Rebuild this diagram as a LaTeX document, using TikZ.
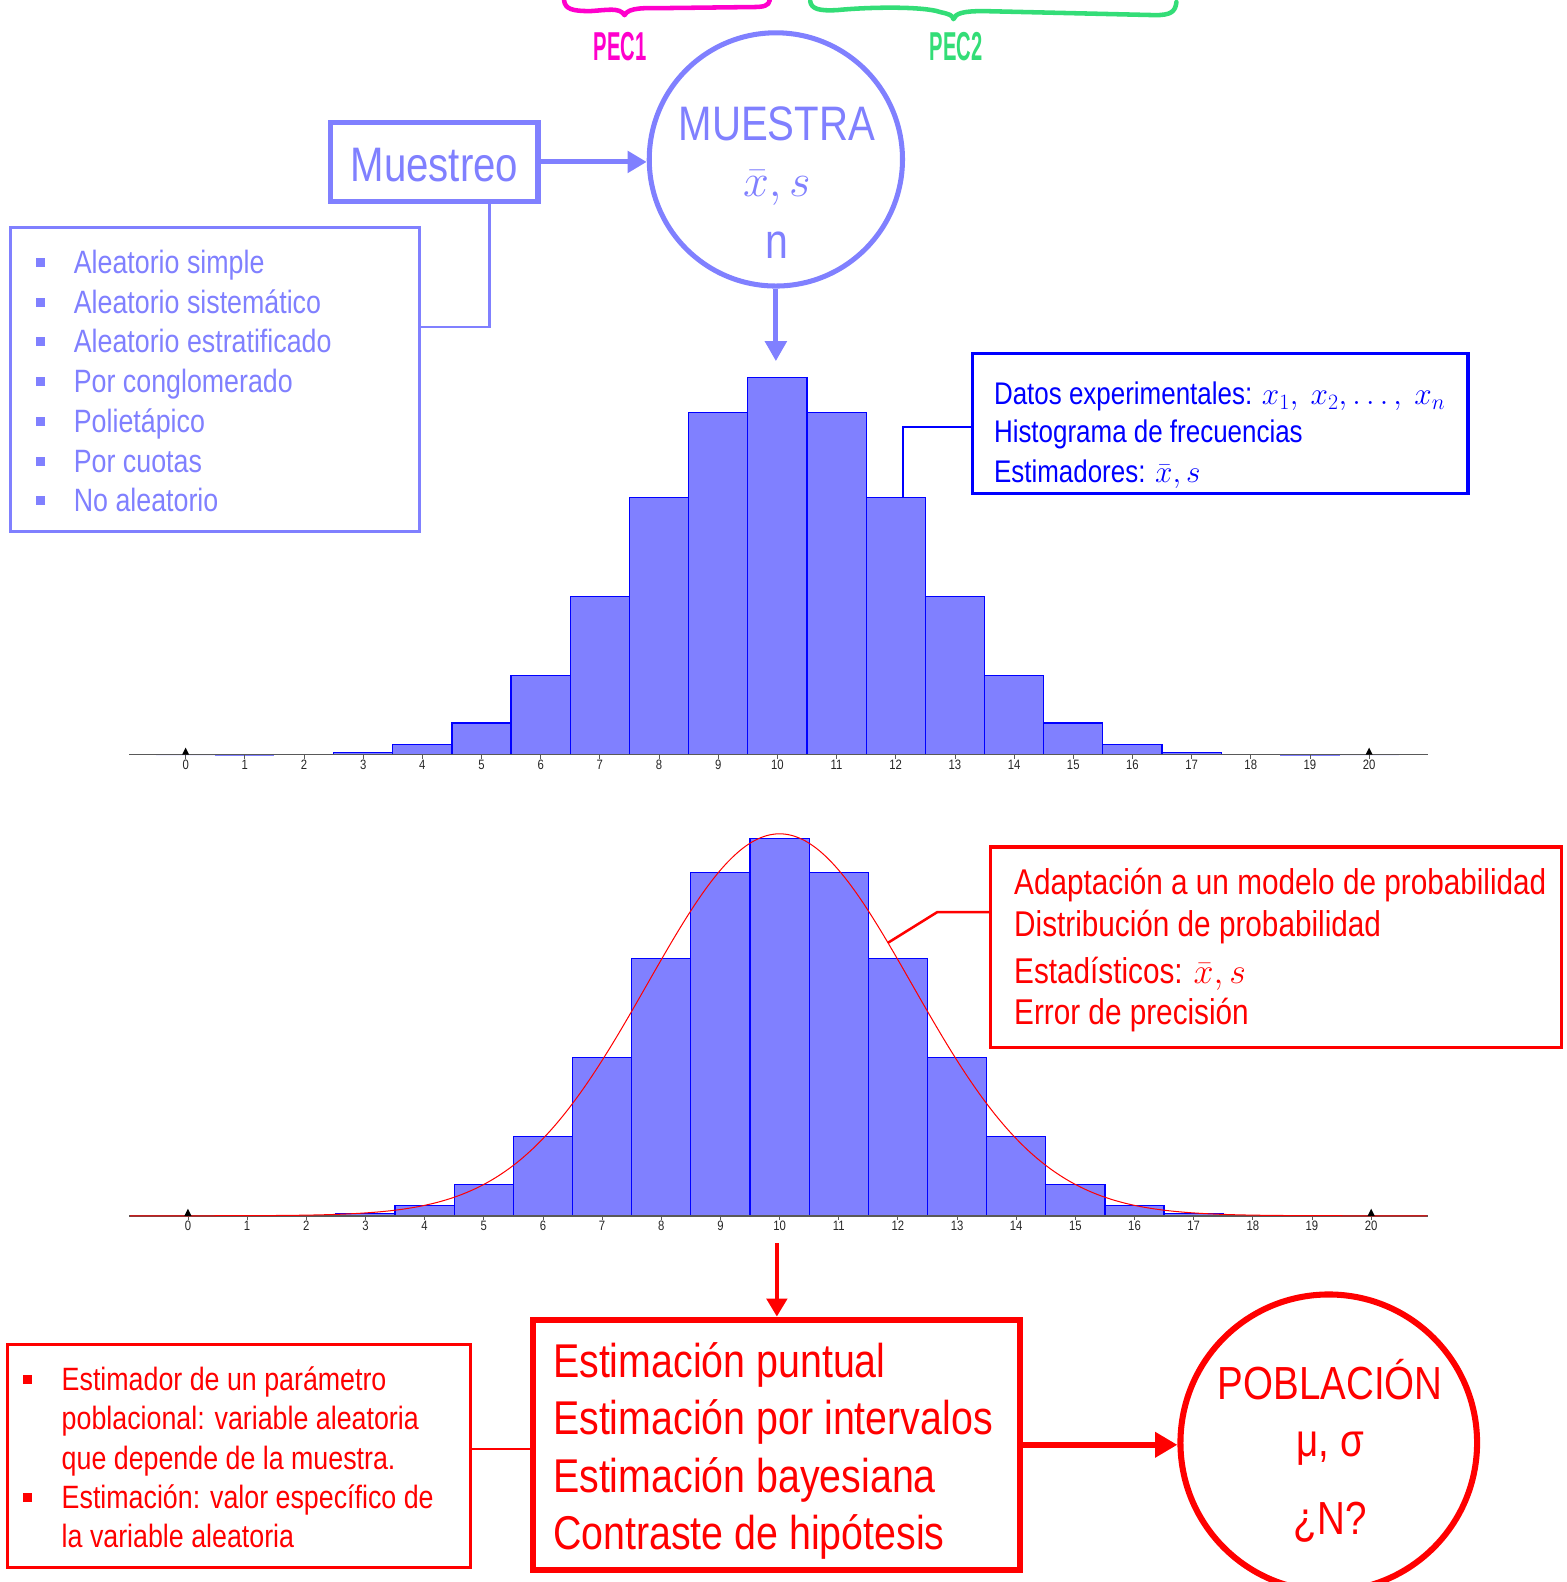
\RequirePackage{fix-cm}
\documentclass[tikz,border=0pt]{standalone}
\usepackage{fontspec}
\setmainfont{Liberation Sans}[FakeStretch=0.83]
\newfontfamily\pecfont{Liberation Sans}[FakeStretch=0.5]
\usetikzlibrary{arrows.meta}
\definecolor{lav}{HTML}{8080FF}
\definecolor{pblue}{HTML}{0000FF}
\definecolor{pred}{HTML}{FF0000}
\definecolor{pmag}{HTML}{FF00CC}
\definecolor{pgreen}{HTML}{33DD77}
\newcommand\fsz[1]{\fontsize{#1}{#1}\selectfont}
\tikzset{
  txt/.style={inner sep=0pt, anchor=base west},
  ctxt/.style={inner sep=0pt, anchor=base},
  bar/.style={fill=lav, draw=pblue, line width=1.2pt},
  axisline/.style={draw=black!65, line width=1.6pt},
  ticklab/.style={inner sep=0pt, anchor=base, font=\fsz{13.5}, text=black!85},
  bsq/.style={fill=#1, minimum size=9pt, inner sep=0pt},
  boxshape/.style={inner sep=0pt, minimum width=#1},
  brace/.style={line width=4.5pt, line cap=round, line join=round},
  tri/.style={fill=black},
}
\def\ranks{0/0.0000054,1/0.000108,2/0.001028,3/0.00617,4/0.02622,5/0.08392,6/0.20979,7/0.41958,8/0.68182,9/0.90909,10/1,11/0.90909,12/0.68182,13/0.41958,14/0.20979,15/0.08392,16/0.02622,17/0.00617,18/0.001028,19/0.000108,20/0.0000054}
\begin{document}
\begin{tikzpicture}[x=1pt,y=-1pt]
\useasboundingbox (0,0) rectangle (1553,1568);

% ---------- braces ----------
\draw[pmag, brace] (559,0) .. controls (560,9) and (567,11) .. (585,11) .. controls (602,10) and (614,7) .. (619,15) .. controls (623,7) and (640,8) .. (660,8) -- (745,7) .. controls (757,7) and (762,6) .. (763,0);
\node[ctxt, text=pmag, font=\pecfont\bfseries\fsz{40}] (pec1) at (614.5,60) {PEC1};
\draw[pgreen, brace] (803,1) .. controls (804,9) and (812,11) .. (830,10) .. controls (860,7) and (915,6) .. (932,12) .. controls (941,14) and (944,15) .. (945,19) .. controls (947,13) and (955,11) .. (975,11) -- (1145,15) .. controls (1160,15) and (1165,12) .. (1166,2);
\node[ctxt, text=pgreen, font=\pecfont\bfseries\fsz{40}] (pec2) at (947.5,60) {PEC2};

% ---------- top histogram ----------
\foreach \k/\r in \ranks {
  \filldraw[bar] ({184+58.65*(\k-0.5)},748) rectangle ({184+58.65*(\k+0.5)},{748-373.5*\r});
}
\draw[axisline] (128,748) -- (1415,748);
\foreach \k in {0,...,20} {
  \draw[black!65, line width=0.8pt] ({184+58.65*\k},748) -- ++(0,4);
  \node[ticklab] (ta\k) at ({184+58.65*\k},763) {\k};
}
\fill[tri] (180.5,748) -- (187.5,748) -- (184,741) -- cycle;
\fill[tri] (1353.5,748) -- (1360.5,748) -- (1357,741) -- cycle;
\coordinate (b12) at (895,493.3);

% ---------- bottom histogram ----------
\foreach \k/\r in \ranks {
  \filldraw[bar] ({186.3+58.635*(\k-0.5)},1205) rectangle ({186.3+58.635*(\k+0.5)},{1205-374*\r});
}
\draw[axisline] (128,1205) -- (1415,1205);
\foreach \k in {0,...,20} {
  \draw[black!65, line width=0.8pt] ({186.3+58.635*\k},1205) -- ++(0,4);
  \node[ticklab] (tb\k) at ({186.3+58.635*\k},1220) {\k};
}
\draw[pred, line width=1pt, domain=-0.98:20.95, samples=220, smooth] plot ({186.3+58.635*\x},{1205-378.5*exp(-(\x-10)^2/10)});
\fill[tri] (182.8,1205) -- (189.8,1205) -- (186.3,1198) -- cycle;
\fill[tri] (1355.5,1205) -- (1362.5,1205) -- (1359,1198) -- cycle;
\coordinate (cpt) at (880,934.5);

% ---------- Muestreo ----------
\node[draw=lav, line width=5.5pt, boxshape=206pt, minimum height=78pt] (muestreo) at (430.5,160.5) {};
\node[ctxt, text=lav, font=\fsz{48}] (muestreoT) at (430.5,180) {Muestreo};

\node[circle, draw=lav, line width=5pt, minimum size=251pt, inner sep=0pt] (muestra) at (769,158) {};
\node[ctxt, text=lav, font=\fsz{48}] (mT1) at (770,139) {MUESTRA};
\node[ctxt, text=lav, font=\fsz{46}] (mT2) at (770,195) {$\bar{x}, s$};
\node[ctxt, text=lav, font=\fsz{49}] (mT3) at (770,256) {n};

\draw[lav, line width=5pt, -{Triangle[length=19pt,width=21pt]}] (muestreo.east) -- (muestreo.east -| muestra.west);

% list box
\node[draw=lav, line width=3pt, boxshape=405pt, minimum height=301pt] (listbox) at (213,376) {};
\draw[lav, line width=2.5pt] ([xshift=54.5pt]muestreo.south) |- ([yshift=52pt]listbox.east);
\foreach \t [count=\i from 0] in {Aleatorio simple,Aleatorio sistemático,Aleatorio estratificado,Por conglomerado,Polietápico,Por cuotas,No aleatorio} {
  \node[bsq=lav] (lb\i) at (40,{271+39.4*\i-11}) {};
  \node[txt, text=lav, font=\fsz{32}] (li\i) at (73,{271+39.4*\i}) {\t};
}

% arrow to histogram
\coordinate (histtop) at (769,358);
\draw[lav, line width=5pt, -{Triangle[length=20pt,width=21pt]}] (muestra.south) -- (histtop);

% ---------- blue box ----------
\node[draw=pblue, line width=3pt, boxshape=491pt, minimum height=139pt] (bluebox) at (1209.5,420) {};
\draw[pblue, line width=2.5pt] ([yshift=-3pt]bluebox.west) -| (b12);
\node[txt, text=pblue, font=\fsz{31}] (bb1) at (985,401) {Datos experimentales: $x_1,\ x_2, \ldots,\ x_n$};
\node[txt, text=pblue, font=\fsz{31}] (bb2) at (985,439) {Histograma de frecuencias};
\node[txt, text=pblue, font=\fsz{31}] (bb3) at (985,478) {Estimadores: $\bar{x}, s$};

% ---------- red box ----------
\node[draw=pred, line width=3pt, boxshape=566pt, minimum height=199pt] (redbox) at (1264.5,939) {};
\draw[pred, line width=2.5pt] ([yshift=35pt]redbox.west) -- ++(-51,0) -- (cpt);
\node[txt, text=pred, font=\fsz{35.5}] (rb1) at (1005,887) {Adaptación a un modelo de probabilidad};
\node[txt, text=pred, font=\fsz{35.5}] (rb2) at (1005,928) {Distribución de probabilidad};
\node[txt, text=pred, font=\fsz{35.5}] (rb3) at (1005,975) {Estadísticos: $\bar{x}, s$};
\node[txt, text=pred, font=\fsz{35.5}] (rb4) at (1005,1015) {Error de precisión};

% ---------- estimation ----------
\coordinate (fitend) at (770,1232);
\node[draw=pred, line width=6pt, boxshape=482pt, minimum height=248pt] (est) at (769.5,1432) {};
\draw[pred, line width=4.5pt, -{Triangle[length=18pt,width=20pt]}] (fitend) -- (fitend |- est.north);
\node[txt, text=pred, font=\fsz{47}] (e1) at (548,1365) {Estimación puntual};
\node[txt, text=pred, font=\fsz{47}] (e2) at (548,1422) {Estimación por intervalos};
\node[txt, text=pred, font=\fsz{47}] (e3) at (548,1479) {Estimación bayesiana};
\node[txt, text=pred, font=\fsz{47}] (e4) at (548,1536) {Contraste de hipótesis};

\node[circle, draw=pred, line width=6pt, minimum size=294pt, inner sep=0pt] (pob) at (1317,1430) {};
\draw[pred, line width=6pt, -{Triangle[length=22pt,width=24pt]}] (est.east) -- (est.east -| pob.west);
\node[ctxt, text=pred, font=\fsz{46}] (p1) at (1318.5,1387) {POBLACIÓN};
\node[ctxt, text=pred, font=\fsz{46}] (p2) at (1318.5,1444) {μ, σ};
\node[ctxt, text=pred, font=\fsz{46}] (p3) at (1318.5,1521) {¿N?};

% left red box
\node[draw=pred, line width=3pt, boxshape=459pt, minimum height=221pt] (lbox) at (237,1443) {};
\draw[pred, line width=2pt] ([yshift=7pt]lbox.east) -- ([yshift=7pt]lbox.east -| est.west);
\node[bsq=pred] (lr1) at (27,1367) {};
\node[bsq=pred] (lr2) at (27,1484) {};
\node[txt, text=pred, font=\fsz{32}] (lt1) at (61,1378) {Estimador de un parámetro};
\node[txt, text=pred, font=\fsz{32}] (lt2) at (61,1417) {poblacional: variable aleatoria};
\node[txt, text=pred, font=\fsz{32}] (lt3) at (61,1456) {que depende de la muestra.};
\node[txt, text=pred, font=\fsz{32}] (lt4) at (61,1495) {Estimación: valor específico de};
\node[txt, text=pred, font=\fsz{32}] (lt5) at (61,1534) {la variable aleatoria};
\end{tikzpicture}
\end{document}
